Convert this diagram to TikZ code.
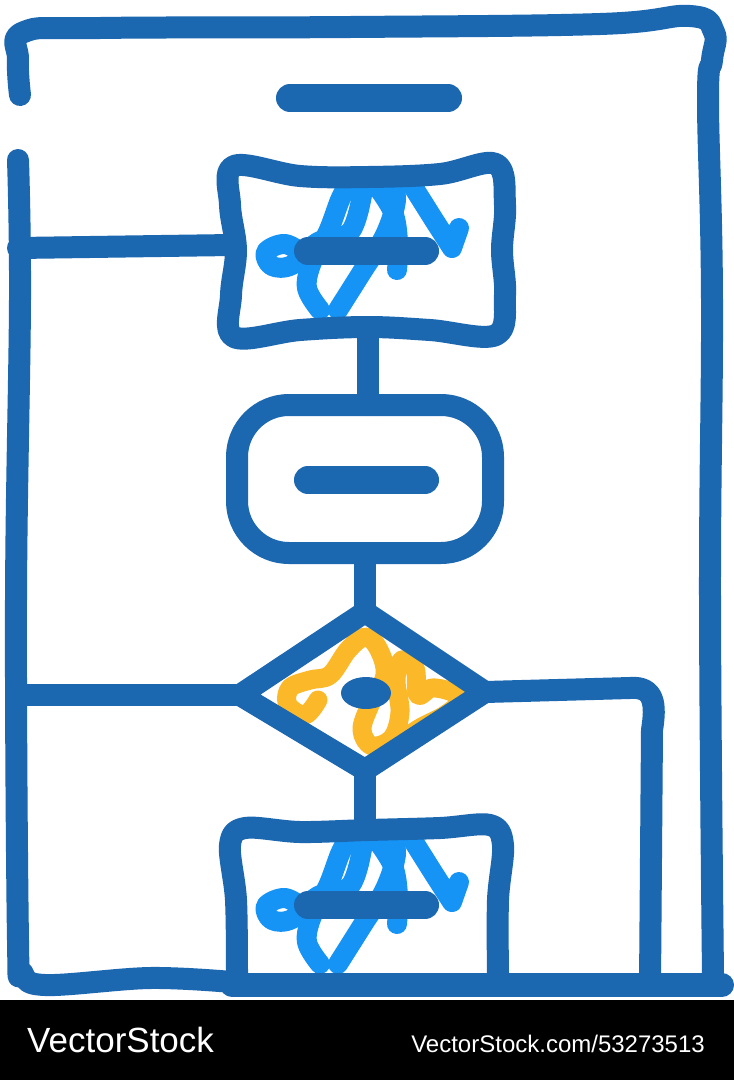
\documentclass[tikz,border=0pt]{standalone}
\usepackage{fontspec}
\setmainfont{Liberation Sans}
\definecolor{inkblue}{HTML}{1B67B0}
\definecolor{skyblue}{HTML}{1594F6}
\definecolor{inkgold}{HTML}{FBB829}
\tikzset{
  ink/.style={draw=inkblue,line width=22pt,line cap=round,line join=round},
  heavyink/.style={ink,line width=28pt},
  scrawl/.style={draw=skyblue,line width=20pt,line cap=round,line join=round},
  goldscrawl/.style={scrawl,draw=inkgold,line width=19pt}
}
\newcommand{\bluescrawl}[1]{%
  \begin{scope}[shift={(0,#1)}]
    \draw[scrawl] plot[smooth,tension=0.6] coordinates {(320,310) (307,288) (312,262) (328,232) (340,200) (348,185)};
    \draw[scrawl] plot[smooth,tension=0.6] coordinates {(305,255) (285,244) (266,252) (272,266) (292,265) (318,242) (350,232) (362,195)};
    \draw[scrawl] plot[smooth,tension=0.6] coordinates {(338,310) (362,272) (385,235) (396,200) (390,182)};
    \draw[scrawl] plot[smooth,tension=0.6] coordinates {(376,185) (393,212) (398,242) (397,270)};
    \draw[scrawl] (412,185) -- (434,220) -- (452,248) -- (459,228);
  \end{scope}}

\begin{document}
\begin{tikzpicture}[x=1pt,y=-1pt]
  \useasboundingbox (0,0) rectangle (734,1080);
  \fill[white] (0,0) rectangle (734,1000);

  \bluescrawl{0}
  \bluescrawl{654}
  \draw[goldscrawl] plot[smooth,tension=0.6] coordinates {(318,700) (305,715) (288,705) (290,688) (310,680) (330,675) (348,650) (365,637) (378,648) (385,675) (370,705) (362,730) (372,746) (392,738) (400,712) (396,680) (402,660) (415,668) (418,695) (432,688) (452,692) (462,700) (445,715) (420,728) (395,745)};

  \coordinate (topA) at (368,333);
  \coordinate (topB) at (368,405);
  \coordinate (midA) at (365,553);
  \coordinate (midB) at (365,612);
  \coordinate (lowA) at (365,770);
  \coordinate (lowB) at (365,828);
  \coordinate (dL) at (240,695);
  \coordinate (dR) at (485,692);

  \draw[ink] plot[smooth,tension=0.7] coordinates {(20,95) (18,60) (24,32) (100,28) (350,27) (600,24) (690,16) (714,32) (712,60) (708,100) (712,300) (710,600) (713,975)};
  \draw[ink] plot[smooth,tension=0.6] coordinates {(18,160) (20,300) (16,600) (18,940) (22,972) (45,985) (150,978) (232,982)};
  \draw[ink,line width=24pt] (232,985) -- (722,985);

  \draw[ink] plot[smooth cycle,tension=0.6] coordinates {(234,166) (300,176) (368,177) (440,174) (496,164) (505,205) (502,250) (505,295) (496,335) (430,330) (368,327) (300,330) (234,337) (231,295) (236,250) (230,205)};
  \draw[ink,rounded corners=52pt] (237,405) rectangle (493,553);
  \draw[ink] (dL) -- (midB) -- (dR) -- (lowA) -- cycle;
  \draw[ink] plot[smooth,tension=0.55] coordinates {(237,975) (236,900) (230,845) (245,828) (300,832) (368,830) (440,828) (490,825) (503,845) (498,900) (498,975)};

  \draw[ink] (18,248) -- (232,245);
  \draw[ink] (18,695) -- (dL);
  \draw[ink] (dR) -- (630,688) .. controls (655,686) and (656,705) .. (652,730) -- (650,985);
  \draw[ink] (topA) -- (topB);
  \draw[ink] (midA) -- (midB);
  \draw[ink] (lowA) -- (lowB);

  \draw[heavyink] (290,98) -- (448,98);
  \draw[heavyink] (308,251) -- (425,251);
  \draw[heavyink] (308,480) -- (425,480);
  \draw[heavyink] (308,905) -- (425,905);
  \fill[inkblue] (366,693) ellipse [x radius=25pt,y radius=16pt];

  \fill[black] (0,1000) rectangle (734,1080);
  \node[anchor=base west,text=white,inner sep=0,font=\fontsize{35}{35}\selectfont] (brand) at (27,1052) {VectorStock};
  \node[anchor=base east,text=white,inner sep=0,font=\fontsize{24}{24}\selectfont] (stockid) at (705,1052) {VectorStock.com/53273513};
\end{tikzpicture}
\end{document}
